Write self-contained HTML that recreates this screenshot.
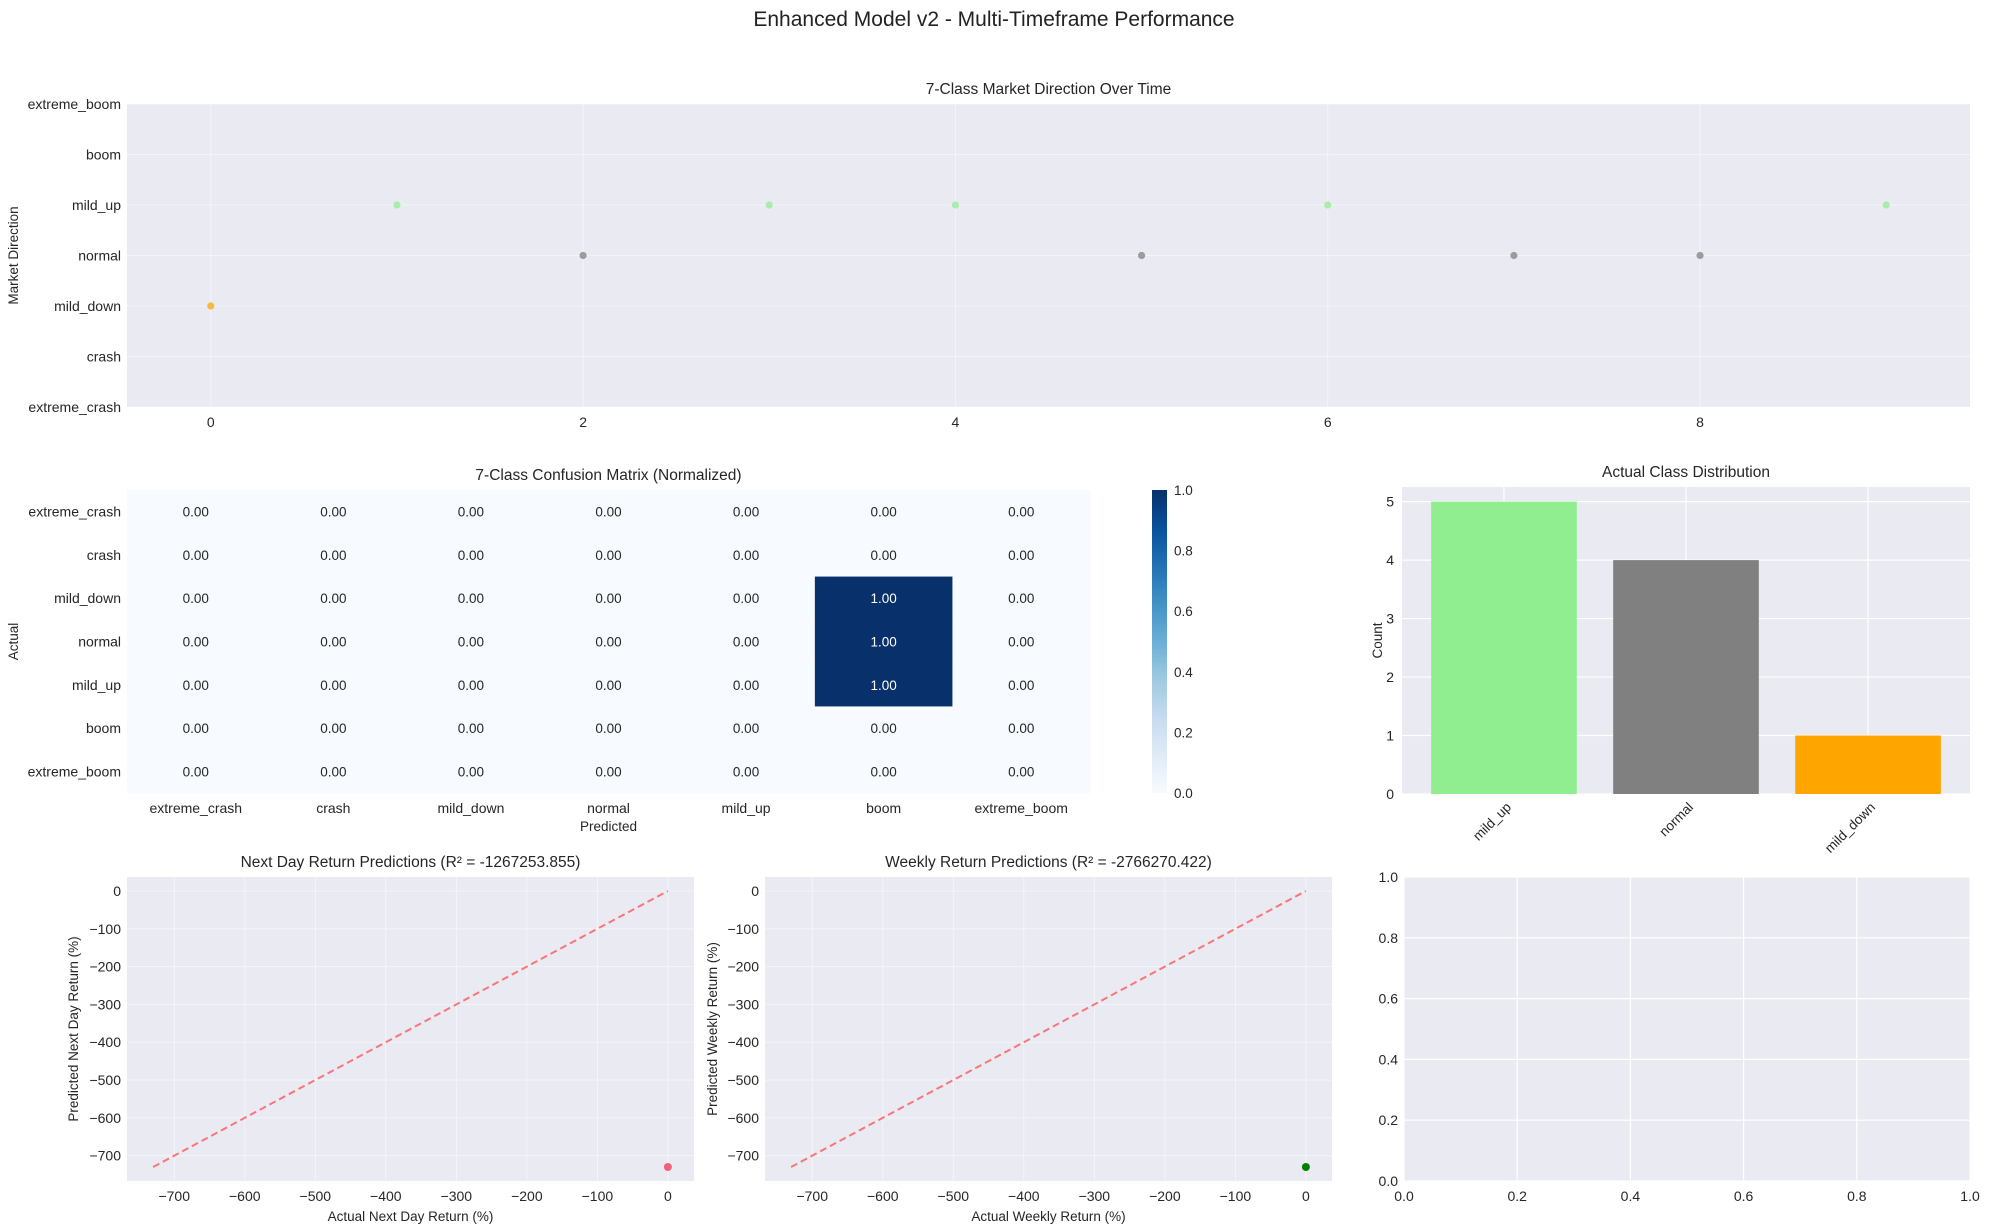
<!DOCTYPE html>
<html><head><meta charset="utf-8"><style>
html,body{margin:0;padding:0;background:#fff}
svg{display:block;font-family:"Liberation Sans",Arial,sans-serif}
</style></head><body>
<svg id="fig" width="1989" height="1229" viewBox="0 0 1989 1229" xmlns="http://www.w3.org/2000/svg">
<defs><linearGradient id="blues" x1="0" y1="1" x2="0" y2="0">
<stop offset="0" stop-color="#f7fbff"/><stop offset="0.125" stop-color="#deebf7"/><stop offset="0.25" stop-color="#c6dbef"/><stop offset="0.375" stop-color="#9ecae1"/><stop offset="0.5" stop-color="#6baed6"/><stop offset="0.625" stop-color="#4292c6"/><stop offset="0.75" stop-color="#2171b5"/><stop offset="0.875" stop-color="#08519c"/><stop offset="1" stop-color="#08306b"/></linearGradient></defs>
<text x="994" y="26" text-anchor="middle" font-size="21" fill="#222">Enhanced Model v2 - Multi-Timeframe Performance</text>
</svg>
<script>
// ---------- data ----------
const classNames = ["extreme_crash","crash","mild_down","normal","mild_up","boom","extreme_boom"];
const timeIndex = [0,1,2,3,4,5,6,7,8,9];
const timeClass = [2,4,3,4,4,3,4,3,3,4];
const confRows = [
 [0,0,0,0,0,0,0],
 [0,0,0,0,0,0,0],
 [0,0,0,0,0,1,0],
 [0,0,0,0,0,1,0],
 [0,0,0,0,0,1,0],
 [0,0,0,0,0,0,0],
 [0,0,0,0,0,0,0]];
const distLabels = ["mild_up","normal","mild_down"];
const distCounts = [5,4,1];
const distColors = ["#90ee90","#808080","#ffa500"];
const nextDayActual = [0];
const nextDayPred = [-730];
const weeklyActual = [0];
const weeklyPred = [-730];
const diagRange = [-730,0];
const returnTicks = [-700,-600,-500,-400,-300,-200,-100,0];
const emptyTicks = [0,0.2,0.4,0.6,0.8,1.0];

const svg = document.getElementById('fig');
const NS = "http://www.w3.org/2000/svg";
function el(tag, attrs, parent){const e=document.createElementNS(NS,tag);for(const k in attrs)e.setAttribute(k,attrs[k]);(parent||svg).appendChild(e);return e;}
function txt(x,y,s,size,anchor,parent,extra){const t=el('text',Object.assign({x:x,y:y,'font-size':size,'text-anchor':anchor||'middle',fill:'#262626'},extra||{}),parent);t.textContent=s;return t;}
function lin(d0,d1,r0,r1){return v=>r0+(v-d0)/(d1-d0)*(r1-r0);}
const BG="#eaeaf2";
const classColor={2:"#ffa500",3:"#808080",4:"#90ee90"};

// ---------- Panel 1: time series ----------
(function(){
 const g=el('g',{});
 
 
 const L=127,R=1970,T=104,B=407;
 const x=lin(-0.45,9.45,L,R), y=lin(0,6,B,T);
 el('rect',{x:L,y:T,width:R-L,height:B-T,fill:BG},g);
 for(let v=0;v<=8;v+=2){el('line',{x1:x(v),x2:x(v),y1:T,y2:B,stroke:'#fff','stroke-width':0.8,opacity:0.6},g);
  const t=txt(x(v),B+20,String(v),14,'middle',g);}
 classNames.forEach((c,i)=>{el('line',{x1:L,x2:R,y1:y(i),y2:y(i),stroke:'#fff','stroke-width':0.8,opacity:0.6},g);
  const t=txt(L-6,y(i)+5,c,14,'end',g);});
 timeIndex.forEach((ti,k)=>{const p=el('circle',{cx:x(ti),cy:y(timeClass[k]),r:3.6,fill:classColor[timeClass[k]],opacity:0.75},g);
  });
 const tt=txt((L+R)/2,T-10,'7-Class Market Direction Over Time',15.5,'middle',g);
 const yl=txt(0,0,'Market Direction',13.5,'middle',g,{transform:`translate(18,${(T+B)/2}) rotate(-90)`});
})();

// ---------- Panel 2: confusion matrix ----------
(function(){
 const g=el('g',{});
 
 
 const L=127,R=1090,T=490,B=793;
 const n=classNames.length, cw=(R-L)/n, ch=(B-T)/n;
 const col=v=>v>=0.5?'#08306b':'#f7fbff';
 confRows.forEach((row,i)=>row.forEach((v,j)=>{
  const r=el('rect',{x:L+j*cw,y:T+i*ch,width:cw+0.5,height:ch+0.5,fill:col(v)},g);
  
  const t=txt(L+(j+0.5)*cw,T+(i+0.5)*ch+5,v.toFixed(2),13.5,'middle',g,{fill:v>=0.5?'#fff':'#262626'});
  
 }));
 classNames.forEach((c,i)=>{
  const a=txt(L-6,T+(i+0.5)*ch+5,c,14,'end',g);
  const b=txt(L+(i+0.5)*cw,B+20,c,14,'middle',g);
 });
 const tt=txt((L+R)/2,T-10,'7-Class Confusion Matrix (Normalized)',15.5,'middle',g);
 const xl=txt((L+R)/2,B+38,'Predicted',13.5,'middle',g);
 const yl=txt(0,0,'Actual',13.5,'middle',g,{transform:`translate(18,${(T+B)/2}) rotate(-90)`});
 const cb=el('rect',{x:1152,y:T,width:15,height:B-T,fill:'url(#blues)'},g);
 
 const cy=lin(0,1,B,T);
 [0,0.2,0.4,0.6,0.8,1.0].forEach(v=>{const t=txt(1174,cy(v)+5,v.toFixed(1),13.5,'start',g);});
})();

// ---------- Panel 3: class distribution ----------
(function(){
 const g=el('g',{});
 
 
 const L=1402,R=1970,T=487,B=794;
 const x=lin(-0.56,2.56,L,R), y=lin(0,5.25,B,T);
 el('rect',{x:L,y:T,width:R-L,height:B-T,fill:BG},g);
 distLabels.forEach((c,i)=>el('line',{x1:x(i),x2:x(i),y1:T,y2:B,stroke:'#fff','stroke-width':1.2},g));
 for(let v=0;v<=5;v++){el('line',{x1:L,x2:R,y1:y(v),y2:y(v),stroke:'#fff','stroke-width':1.2},g);
  const t=txt(L-8,y(v)+5,String(v),14,'end',g);}
 distLabels.forEach((c,i)=>{
  const b=el('rect',{x:x(i-0.4),y:y(distCounts[i]),width:x(0.4)-x(-0.4),height:B-y(distCounts[i]),fill:distColors[i]},g);
  
  const t=txt(0,0,c,13.5,'end',g,{transform:`translate(${x(i)+8},${B+14}) rotate(-45)`});
  
 });
 const tt=txt((L+R)/2,T-10,'Actual Class Distribution',15.5,'middle',g);
 const yl=txt(0,0,'Count',13.5,'middle',g,{transform:`translate(1382,${(T+B)/2}) rotate(-90)`});
})();

// ---------- Panels 4/5: return scatter ----------
function retPanel(L,R,title,xlab,ylab,ax,pr,ptColor,name,ylx){
 const g=el('g',{});
 
 
 const T=877,B=1181;
 const x=lin(-767,37,L,R), y=lin(-767,37,B,T);
 el('rect',{x:L,y:T,width:R-L,height:B-T,fill:BG},g);
 returnTicks.forEach(v=>{
  el('line',{x1:x(v),x2:x(v),y1:T,y2:B,stroke:'#fff','stroke-width':0.8,opacity:0.6},g);
  el('line',{x1:L,x2:R,y1:y(v),y2:y(v),stroke:'#fff','stroke-width':0.8,opacity:0.6},g);
  const a=txt(x(v),B+20,v<0?'\u2212'+(-v):String(v),14,'middle',g);
  const b=txt(L-6,y(v)+5,v<0?'\u2212'+(-v):String(v),14,'end',g);
 });
 const dl=el('line',{x1:x(diagRange[0]),y1:y(diagRange[0]),x2:x(diagRange[1]),y2:y(diagRange[1]),stroke:'#ff4d4d','stroke-opacity':0.75,'stroke-width':2,'stroke-dasharray':'7,4'},g);
 
 ax.forEach((a,i)=>{const p=el('circle',{cx:x(a),cy:y(pr[i]),r:4,fill:ptColor},g);});
 const tt=txt((L+R)/2,T-10,title,15.5,'middle',g);
 const xl=txt((L+R)/2,B+40,xlab,13.5,'middle',g);
 const yl=txt(0,0,ylab,13.5,'middle',g,{transform:`translate(${ylx},${(T+B)/2}) rotate(-90)`});
}
retPanel(127,694,'Next Day Return Predictions (R\u00b2 = -1267253.855)','Actual Next Day Return (%)','Predicted Next Day Return (%)',nextDayActual,nextDayPred,'#f2607a','next-day-scatter',78);
retPanel(765,1332,'Weekly Return Predictions (R\u00b2 = -2766270.422)','Actual Weekly Return (%)','Predicted Weekly Return (%)',weeklyActual,weeklyPred,'#008000','weekly-scatter',717);

// ---------- Panel 6: empty axes ----------
(function(){
 const g=el('g',{});
 
 
 const L=1404,R=1970,T=877,B=1181;
 const x=lin(0,1,L,R), y=lin(0,1,B,T);
 el('rect',{x:L,y:T,width:R-L,height:B-T,fill:BG},g);
 emptyTicks.forEach(v=>{
  el('line',{x1:x(v),x2:x(v),y1:T,y2:B,stroke:'#fff','stroke-width':1.2},g);
  el('line',{x1:L,x2:R,y1:y(v),y2:y(v),stroke:'#fff','stroke-width':1.2},g);
  const a=txt(x(v),B+20,v.toFixed(1),14,'middle',g);
  const b=txt(L-6,y(v)+5,v.toFixed(1),14,'end',g);
 });
})();
</script>
</body></html>
